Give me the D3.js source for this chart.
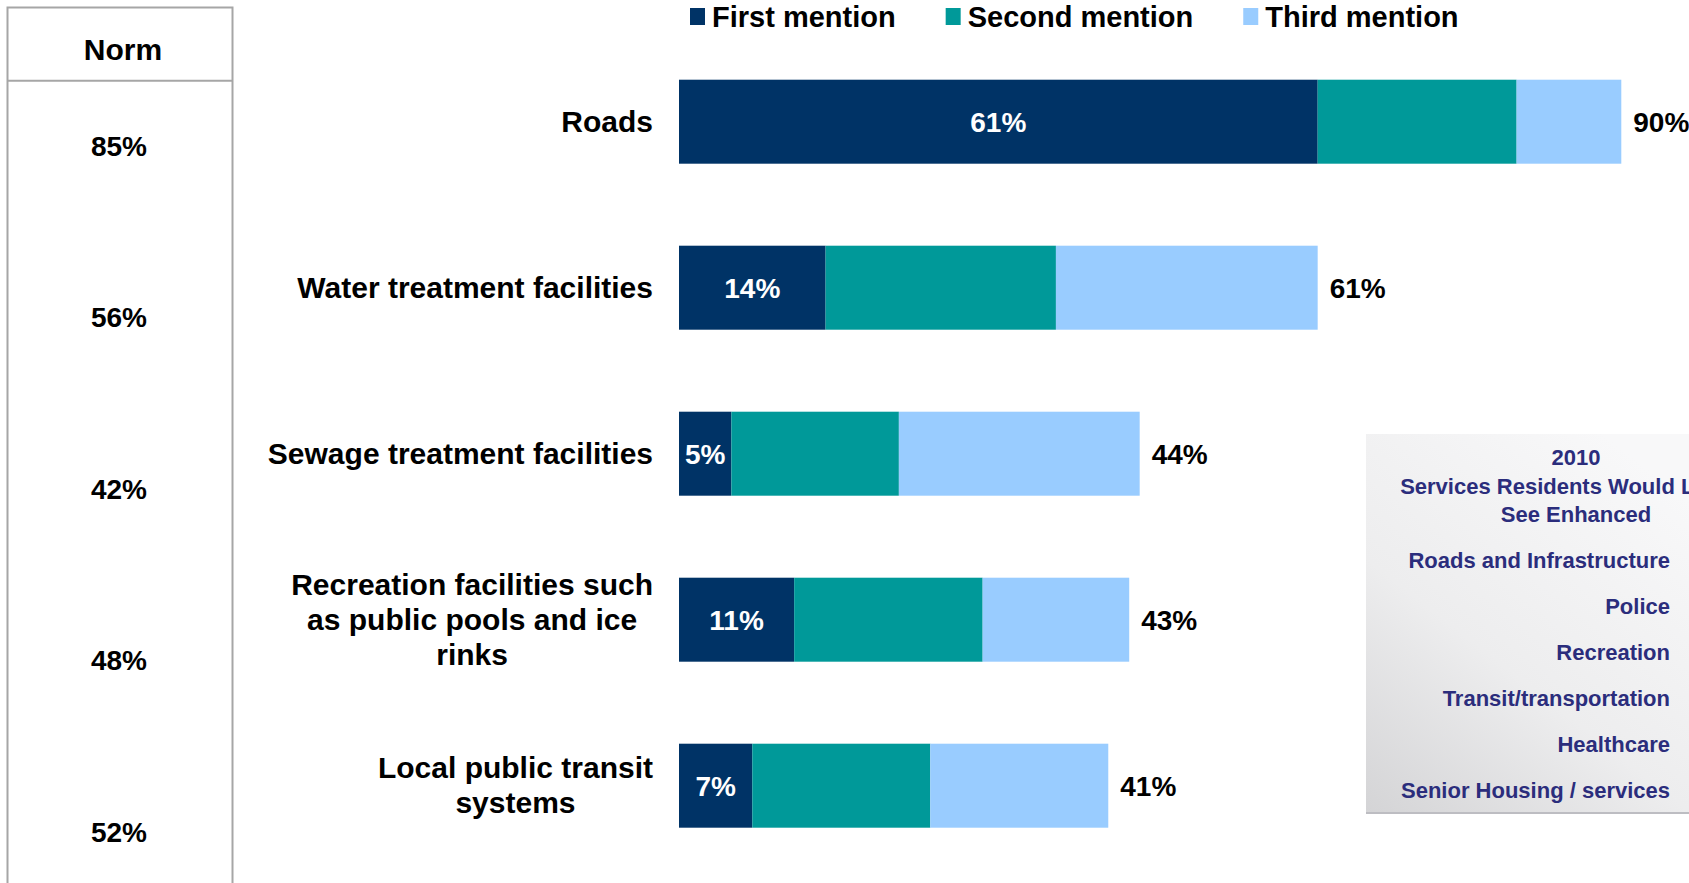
<!DOCTYPE html>
<html>
<head>
<meta charset="utf-8">
<script src="https://cdnjs.cloudflare.com/ajax/libs/d3/7.8.5/d3.min.js"></script>
<style>
  body { margin: 0; background: #ffffff; }
  svg { display: block; }
  text { font-family: "Liberation Sans", Arial, sans-serif; font-weight: bold; }
</style>
</head>
<body>
<div id="canvas"></div>
<script>
"use strict"

// chart data
let categories = [
    ["Roads"],
    ["Water treatment facilities"],
    ["Sewage treatment facilities"],
    ["Recreation facilities such", "as public pools and ice", "rinks"],
    ["Local public transit", "systems"]
];
let seriesNames = ["First mention", "Second mention", "Third mention"];
let firstMention = [61, 14, 5, 11, 7];
let secondMention = [19, 22, 16, 18, 17];
let thirdMention = [10, 25, 23, 14, 17];
let totals = [90, 61, 44, 43, 41];
let normValues = [85, 56, 42, 48, 52];

// the 2010 inset list
let insetTitle = ["2010", "Services Residents Would Like to", "See Enhanced"];
let insetItems = ["Roads and Infrastructure", "Police", "Recreation",
                  "Transit/transportation", "Healthcare", "Senior Housing / services"];

let colors = ["#003366", "#009999", "#99ccff"];

let width = 1689;
let height = 883;

let drawing = d3.select("#canvas")
    .append("svg")
    .attr("width", width)
    .attr("height", height);

// scales
let x = d3.scaleLinear()
    .domain([0, 100])
    .range([679, 1726]);

let y = d3.scaleBand()
    .domain(d3.range(categories.length))
    .range([38.7, 868.7])
    .paddingInner(0.494)
    .paddingOuter(0.247);

let normY = d3.scalePoint()
    .domain(d3.range(normValues.length))
    .range([146.5, 832.7]);

// stacked rows built from the series arrays
let rows = categories.map((c, i) => ({
    index: i,
    values: [firstMention[i], secondMention[i], thirdMention[i]]
}));
let stack = d3.stack().keys([0, 1, 2]).value((d, k) => d.values[k]);
let layers = stack(rows);

// Norm table
let gridColor = "#a6a6a6";
drawing.append("rect")
    .attr("x", 7.5)
    .attr("y", 7.5)
    .attr("width", 225)
    .attr("height", height + 20)
    .attr("fill", "none")
    .attr("stroke", gridColor)
    .attr("stroke-width", 2);

drawing.append("line")
    .attr("x1", 7.5)
    .attr("x2", 232.5)
    .attr("y1", 80.8)
    .attr("y2", 80.8)
    .attr("stroke", gridColor)
    .attr("stroke-width", 2);

drawing.append("text")
    .attr("x", 123)
    .attr("y", 60)
    .attr("text-anchor", "middle")
    .attr("font-size", 30)
    .attr("fill", "#000")
    .text("Norm");

drawing.selectAll(".norm")
    .data(normValues)
    .enter()
    .append("text")
    .attr("class", "norm")
    .attr("x", 119)
    .attr("y", (d, i) => normY(i) + 9)
    .attr("text-anchor", "middle")
    .attr("font-family", "Lato, 'Open Sans', sans-serif")
    .attr("font-weight", 900)
    .attr("font-size", 28)
    .attr("fill", "#000")
    .text(d => d + "%");

// bars
drawing.selectAll(".layer")
    .data(layers)
    .enter()
    .append("g")
    .attr("class", "layer")
    .attr("fill", (d, i) => colors[i])
    .selectAll("rect")
    .data(d => d)
    .enter()
    .append("rect")
    .attr("x", d => x(d[0]))
    .attr("y", d => y(d.data.index))
    .attr("width", d => x(d[1]) - x(d[0]))
    .attr("height", y.bandwidth());

// first mention labels, white inside the dark segment
drawing.selectAll(".firstLabel")
    .data(firstMention)
    .enter()
    .append("text")
    .attr("class", "firstLabel")
    .attr("x", d => (x(0) + x(d)) / 2)
    .attr("y", (d, i) => y(i) + y.bandwidth() / 2 + 10)
    .attr("text-anchor", "middle")
    .attr("font-size", 28)
    .attr("fill", "#ffffff")
    .text(d => d + "%");

// totals at the end of each bar
drawing.selectAll(".totalLabel")
    .data(totals)
    .enter()
    .append("text")
    .attr("class", "totalLabel")
    .attr("x", (d, i) => x(firstMention[i] + secondMention[i] + thirdMention[i]) + 12)
    .attr("y", (d, i) => y(i) + y.bandwidth() / 2 + 10)
    .attr("font-size", 28)
    .attr("fill", "#000")
    .text(d => d + "%");

// category labels, block is centred and its widest line ends near the bar
let labelRight = 653;
let lineHeight = 35;
categories.forEach((lines, i) => {
    let g = drawing.append("g").attr("class", "catLabel");
    let texts = lines.map((line, j) => g.append("text")
        .attr("y", y(i) + y.bandwidth() / 2 + (j - (lines.length - 1) / 2) * lineHeight + 10)
        .attr("text-anchor", "middle")
        .attr("font-size", 30)
        .attr("fill", "#000")
        .text(line));
    let widest = d3.max(texts, t => t.node().getComputedTextLength());
    texts.forEach(t => t.attr("x", labelRight - widest / 2));
});

// legend
let legendX = 690;
seriesNames.forEach((name, i) => {
    drawing.append("rect")
        .attr("x", legendX)
        .attr("y", 8)
        .attr("width", 15)
        .attr("height", 17)
        .attr("fill", colors[i]);
    let t = drawing.append("text")
        .attr("x", legendX + 22)
        .attr("y", 27)
        .attr("font-size", 29)
        .attr("fill", "#000")
        .text(name);
    legendX += 22 + t.node().getComputedTextLength() + 50;
});

// inset panel with gradient background
let defs = drawing.append("defs");
let grad = defs.append("linearGradient")
    .attr("id", "insetGrad")
    .attr("x1", "0%").attr("y1", "100%")
    .attr("x2", "70%").attr("y2", "0%");
grad.append("stop").attr("offset", "0%").attr("stop-color", "#d4d4d6");
grad.append("stop").attr("offset", "45%").attr("stop-color", "#ededee");
grad.append("stop").attr("offset", "100%").attr("stop-color", "#f8f8f9");

drawing.append("rect")
    .attr("x", 1366)
    .attr("y", 434)
    .attr("width", 340)
    .attr("height", 379)
    .attr("fill", "url(#insetGrad)");

drawing.append("line")
    .attr("x1", 1366)
    .attr("x2", width)
    .attr("y1", 813)
    .attr("y2", 813)
    .attr("stroke", "#bdbdc2")
    .attr("stroke-width", 2);

let insetColor = "#2b2d7c";
let titleY = d3.scalePoint().domain(d3.range(insetTitle.length)).range([465, 522]);
drawing.selectAll(".insetTitle")
    .data(insetTitle)
    .enter()
    .append("text")
    .attr("class", "insetTitle")
    .attr("x", 1576)
    .attr("y", (d, i) => titleY(i))
    .attr("text-anchor", "middle")
    .attr("font-size", 22)
    .attr("fill", insetColor)
    .text(d => d);

let itemY = d3.scalePoint().domain(d3.range(insetItems.length)).range([568, 798]);
drawing.selectAll(".insetItem")
    .data(insetItems)
    .enter()
    .append("text")
    .attr("class", "insetItem")
    .attr("x", 1670)
    .attr("y", (d, i) => itemY(i))
    .attr("text-anchor", "end")
    .attr("font-size", 22)
    .attr("fill", insetColor)
    .text(d => d);
</script>
</body>
</html>
